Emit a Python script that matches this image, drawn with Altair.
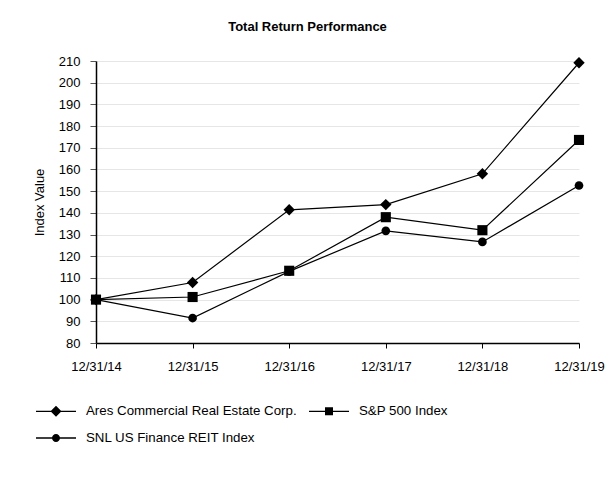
import altair as alt
import pandas as pd

dates = ["12/31/14", "12/31/15", "12/31/16", "12/31/17", "12/31/18", "12/31/19"]
series_names = ["Ares Commercial Real Estate Corp.", "S&P 500 Index", "SNL US Finance REIT Index"]
ares = [100.0, 107.9, 141.4, 143.8, 158.0, 209.2]
sp500 = [100.0, 101.2, 113.3, 138.0, 132.0, 173.6]
snl = [100.0, 91.5, 113.0, 131.7, 126.6, 152.6]

marker_shapes = ["diamond", "square", "circle"]
BAR = "M-2,-0.065L2,-0.065L2,0.065L-2,0.065Z"
legend_shapes = [
    BAR + "M0,-0.55L0.55,0L0,0.55L-0.55,0Z",
    BAR + "M-0.4,-0.4L0.4,-0.4L0.4,0.4L-0.4,0.4Z",
    BAR + "M-0.4,0A0.4,0.4 0 1,1 0.4,0A0.4,0.4 0 1,1 -0.4,0Z",
]

rows = []
for name, vals in zip(series_names, [ares, sp500, snl]):
    for d, v in zip(dates, vals):
        rows.append({"date": d, "series": name, "value": v})
df = pd.DataFrame(rows)

FONT = "Liberation Sans"

x_enc = alt.X(
    "date:O",
    sort=dates,
    scale=alt.Scale(type="point", padding=0),
    axis=alt.Axis(title=None, labelAngle=0, tickSize=5, labelPadding=12, grid=False,
                  labelFontSize=13, labelColor="black", domainColor="black", tickColor="black",
                  domainWidth=1.5, labelOverlap=False, labelBound=False),
)
y_enc = alt.Y(
    "value:Q",
    scale=alt.Scale(domain=[80, 210], nice=False, zero=False),
    axis=alt.Axis(title="Index Value", values=list(range(80, 211, 10)), tickSize=6,
                  labelPadding=10, titlePadding=12, labelFontSize=13, titleFontSize=13,
                  titleFontWeight="normal", labelColor="black", titleColor="black",
                  domainColor="black", tickColor="#555555", domainWidth=1.5,
                  gridColor="#e6e6e6", gridWidth=1),
)

base = alt.Chart(df)

lines = base.mark_line(color="black", strokeWidth=1.2).encode(
    x=x_enc, y=y_enc, detail="series:N"
)

points = base.mark_point(filled=True, color="black", opacity=1).encode(
    x=x_enc, y=y_enc,
    shape=alt.Shape("series:N", sort=series_names,
                    scale=alt.Scale(domain=series_names, range=marker_shapes), legend=None),
    size=alt.Size("series:N", sort=series_names,
                  scale=alt.Scale(domain=series_names, range=[130, 75, 70]), legend=None),
)

legend_layer = base.mark_point(filled=True, color="black", opacity=0).encode(
    x=x_enc, y=y_enc,
    shape=alt.Shape(
        "series:N",
        sort=series_names,
        scale=alt.Scale(domain=series_names, range=legend_shapes),
        legend=alt.Legend(
            title=None, orient="none", legendX=-50, legendY=340, columns=2,
            direction="horizontal",
            symbolSize=400, symbolOpacity=1, symbolFillColor="black",
            symbolStrokeWidth=0, labelOffset=20, columnPadding=12, rowPadding=10,
            labelFontSize=13.3, labelFont=FONT, labelColor="black", padding=0, labelLimit=0,
        ),
    ),
)

chart = (
    alt.layer(lines, points, legend_layer)
    .resolve_scale(shape="independent", size="independent")
    .properties(
        width=483,
        height=282,
        title=alt.TitleParams("Total Return Performance", fontSize=13, fontWeight="bold",
                              font=FONT, color="black", anchor="middle", dx=-30, offset=21),
        autosize=alt.AutoSizeParams(type="none"),
        padding={"left": 88, "top": 53, "right": 27, "bottom": 120},
    )
    .configure(font=FONT)
    .configure_view(stroke=None)
    .configure_axis(labelFont=FONT, titleFont=FONT)
)

chart.save("out.html", embed_options={"renderer": "svg", "actions": False})
